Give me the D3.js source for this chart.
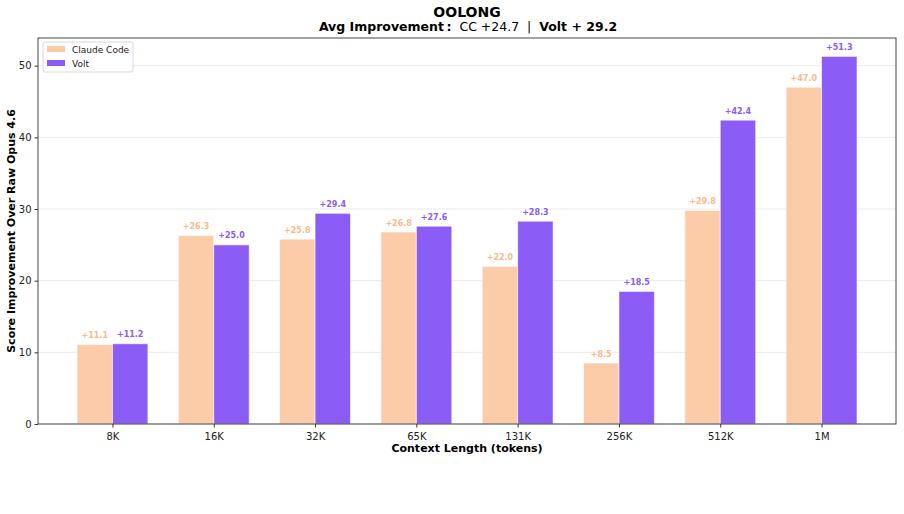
<!DOCTYPE html>
<html>
<head>
<meta charset="utf-8">
<script src="https://cdn.jsdelivr.net/npm/d3@7"></script>
<style>
  body { margin: 0; background: #fff; }
  text { font-family: "DejaVu Sans", sans-serif; }
</style>
</head>
<body>
<div id="chart"></div>
<script>
const categories = ["8K", "16K", "32K", "65K", "131K", "256K", "512K", "1M"];
const claudeCode = [11.1, 26.3, 25.8, 26.8, 22.0, 8.5, 29.8, 47.0];
const volt = [11.2, 25.0, 29.4, 27.6, 28.3, 18.5, 42.4, 51.3];
const yTicks = [0, 10, 20, 30, 40, 50];
const seriesNames = ["Claude Code", "Volt"];

const w = 904;
const h = 514;
const plotLeft = 38;
const plotRight = 896;
const plotTop = 38;
const plotBottom = 424;
const barW = 0.35;

const ccFill = "#fcc9a4";
const ccText = "#fdb98a";
const voltFill = "#8b5cf6";
const voltText = "#8b5cf6";

const svg = d3.select("#chart").append("svg").attr("width", w).attr("height", h);

// x in category units, like a matplotlib axis with 5% margins
const xScale = d3.scaleLinear()
  .domain([-0.35 - 0.385, categories.length - 1 + 0.35 + 0.385])
  .range([plotLeft, plotRight]);
const yScale = d3.scaleLinear().domain([0, 51.3 * 1.05]).range([plotBottom, plotTop]);

// grid
svg.append("g")
  .selectAll("line")
  .data(yTicks)
  .enter()
  .append("line")
  .attr("x1", plotLeft)
  .attr("x2", plotRight)
  .attr("y1", (d) => yScale(d))
  .attr("y2", (d) => yScale(d))
  .attr("stroke", "#e6e6e6")
  .attr("stroke-width", 0.8);

const drawBars = (values, offset, fill, textColor, opacity) => {
  const g = svg.append("g");
  g.selectAll("rect")
    .data(values)
    .enter()
    .append("rect")
    .attr("x", (d, i) => xScale(i + offset))
    .attr("y", (d) => yScale(d))
    .attr("width", xScale(barW) - xScale(0))
    .attr("height", (d) => yScale(0) - yScale(d))
    .attr("fill", fill)
    .attr("fill-opacity", opacity)
    .attr("stroke", "#fff")
    .attr("stroke-opacity", 0.6)
    .attr("stroke-width", 1);
  g.selectAll("text")
    .data(values)
    .enter()
    .append("text")
    .attr("x", (d, i) => xScale(i + offset + barW / 2))
    .attr("y", (d) => yScale(d + 0.9))
    .attr("text-anchor", "middle")
    .attr("font-size", 8)
    .attr("font-weight", "bold")
    .attr("fill", textColor)
    .text((d) => "+" + d.toFixed(1));
};
drawBars(claudeCode, -barW, ccFill, ccText, 0.95);
drawBars(volt, 0, voltFill, voltText, 1);

// axes
const xAxis = d3.axisBottom(xScale)
  .tickValues(d3.range(categories.length))
  .tickFormat((d) => categories[d])
  .tickSize(3.5)
  .tickSizeOuter(0);
const gx = svg.append("g").attr("transform", `translate(0,${plotBottom})`).call(xAxis);
gx.select(".domain").remove();
gx.selectAll("text").attr("font-size", 10).attr("fill", "#222").attr("dy", "0.9em");
gx.selectAll("line").attr("stroke", "#333");

const yAxis = d3.axisLeft(yScale).tickValues(yTicks).tickSize(3.5);
const gy = svg.append("g").attr("transform", `translate(${plotLeft},0)`).call(yAxis);
gy.select(".domain").remove();
gy.selectAll("text").attr("font-size", 10).attr("fill", "#222");
gy.selectAll("line").attr("stroke", "#333");

// frame
svg.append("rect")
  .attr("x", plotLeft)
  .attr("y", plotTop)
  .attr("width", plotRight - plotLeft)
  .attr("height", plotBottom - plotTop)
  .attr("fill", "none")
  .attr("stroke", "#333")
  .attr("stroke-width", 0.9);

// titles
svg.append("text")
  .attr("x", 467)
  .attr("y", 17)
  .attr("text-anchor", "middle")
  .attr("font-size", 14)
  .attr("font-weight", "bold")
  .text("OOLONG");
const sub = svg.append("text")
  .attr("x", 468)
  .attr("y", 31)
  .attr("text-anchor", "middle")
  .attr("font-size", 12.5)
  .style("white-space", "pre");
sub.append("tspan").attr("font-weight", "bold").text("Avg Improvement\u2009:");
sub.append("tspan").text("  CC +" + d3.mean(claudeCode).toFixed(1) + "  |  ");
sub.append("tspan").attr("font-weight", "bold").text("Volt + " + d3.mean(volt).toFixed(1));

svg.append("text")
  .attr("x", 467)
  .attr("y", 452)
  .attr("text-anchor", "middle")
  .attr("font-size", 11)
  .attr("font-weight", "bold")
  .text("Context Length (tokens)");
svg.append("text")
  .attr("transform", `translate(15,${(plotTop + plotBottom) / 2}) rotate(-90)`)
  .attr("text-anchor", "middle")
  .attr("font-size", 11)
  .attr("font-weight", "bold")
  .text("Score Improvement Over Raw Opus 4.6");

// legend
const legend = svg.append("g").attr("transform", "translate(43,42)");
legend.append("rect")
  .attr("width", 90)
  .attr("height", 30)
  .attr("rx", 2)
  .attr("fill", "#fff")
  .attr("fill-opacity", 0.8)
  .attr("stroke", "#d9d9d9");
legend.selectAll(".sw")
  .data(seriesNames)
  .enter()
  .append("rect")
  .attr("x", 4)
  .attr("y", (d, i) => 4 + i * 14)
  .attr("width", 18)
  .attr("height", 6)
  .attr("fill", (d, i) => (i === 0 ? ccFill : voltFill));
legend.selectAll("text")
  .data(seriesNames)
  .enter()
  .append("text")
  .attr("x", 29)
  .attr("y", (d, i) => 10.5 + i * 14)
  .attr("font-size", 9)
  .attr("fill", "#222")
  .text((d) => d);
</script>
</body>
</html>
